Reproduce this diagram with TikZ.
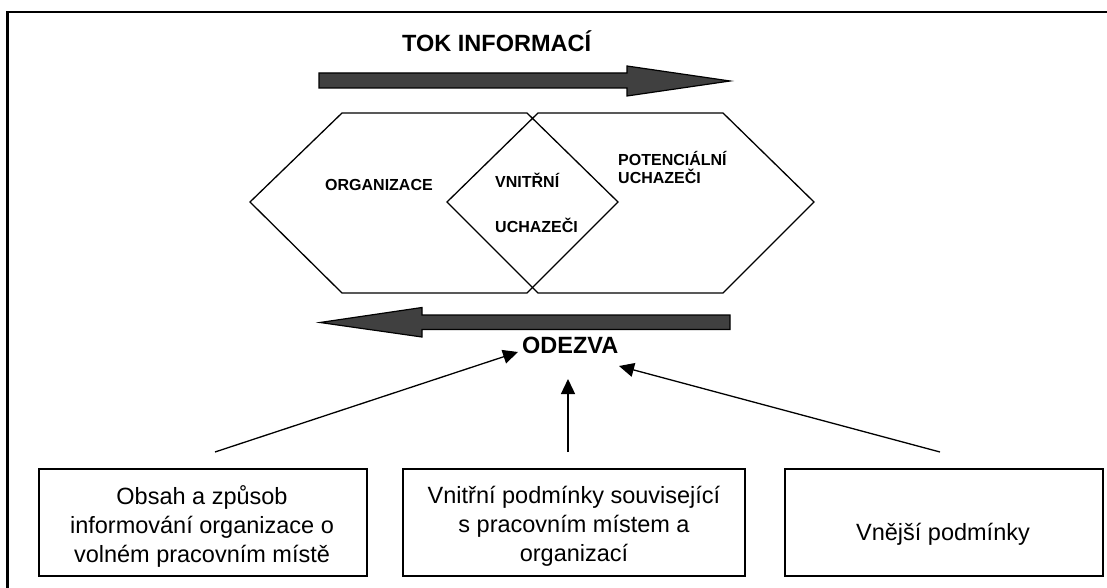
\documentclass[tikz,border=0pt]{standalone}
\usepackage{fontspec}
\setmainfont{Liberation Sans}
\usetikzlibrary{arrows.meta}
\definecolor{arrowgray}{HTML}{404040}
\begin{document}
\begin{tikzpicture}[x=1pt,y=-1pt,
  outline/.style={line width=1.3pt, line join=miter},
  hexlabel/.style={font=\fontsize{16}{19}\selectfont\bfseries, anchor=base west, inner sep=0pt},
  headline/.style={font=\fontsize{23.5}{28}\selectfont\bfseries, anchor=base west, inner sep=0pt},
  boxtext/.style={font=\fontsize{23.5}{29}\selectfont, align=center, anchor=base, inner sep=0pt},
  factor/.style={draw, line width=1.3pt, inner sep=0pt},
  blockarrow/.style={draw, fill=arrowgray, line width=1.2pt, line join=miter},
  conn/.style={line width=1.3pt, -{Triangle[length=15pt,width=14pt]}}
]
\useasboundingbox (0,0) rectangle (1107,588);

% frame
\draw[line width=2.5pt] (7.5,588) -- (7.5,12) -- (1107,12);

% flow of information (right) and response (left)
\draw[blockarrow] (319,73) -- (627,73) -- (627,66) -- (730,81) -- (627,96) -- (627,88) -- (319,88) -- cycle;
\draw[blockarrow] (730,315) -- (422,315) -- (422,307.5) -- (320,322.5) -- (422,337) -- (422,329.5) -- (730,329.5) -- cycle;
\node[headline] (tok) at (402,51.5) {TOK INFORMACÍ};
\node[headline] (odezva) at (522,353) {ODEZVA};

% overlapping hexagons
\draw[outline] (250,202) -- (342,113) -- (527,113) -- (618,202) -- (527,293) -- (342,293) -- cycle;
\draw[outline] (447,202) -- (538,113) -- (723,113) -- (814,202) -- (723,293) -- (538,293) -- cycle;
\node[hexlabel] (org) at (325,190) {ORGANIZACE};
\node[hexlabel] (vn1) at (495,187) {VNITŘNÍ};
\node[hexlabel] (vn2) at (495,232) {UCHAZEČI};
\node[hexlabel] (pot1) at (618,165) {POTENCIÁLNÍ};
\node[hexlabel] (pot2) at (618,183) {UCHAZEČI};

% factor boxes (multi-line text is placed by the baseline of its last line)
\node[factor, minimum width=328pt, minimum height=107pt] (f1) at (203,522.5) {};
\node[factor, minimum width=342pt, minimum height=107pt] (f2) at (574,522.5) {};
\node[factor, minimum width=318pt, minimum height=107pt] (f3) at (944,522.5) {};
\node[boxtext] (t1) at (202,562) {Obsah a způsob\\informování organizace o\\volném pracovním místě};
\node[boxtext] (t2) at (574,561) {Vnitřní podmínky související\\s pracovním místem a\\organizací};
\node[boxtext] (t3) at (943,540) {Vnější podmínky};

% influences on the response
\coordinate (s1) at (215,452);
\coordinate (s2) at (568,452);
\coordinate (s3) at (940,452);
\coordinate (e1) at (518,352);
\coordinate (e2) at (568,379);
\coordinate (e3) at (619,366);
\draw[conn] (s1) -- (e1);
\draw[conn] (s2) -- (e2);
\draw[conn] (s3) -- (e3);
\end{tikzpicture}
\end{document}
